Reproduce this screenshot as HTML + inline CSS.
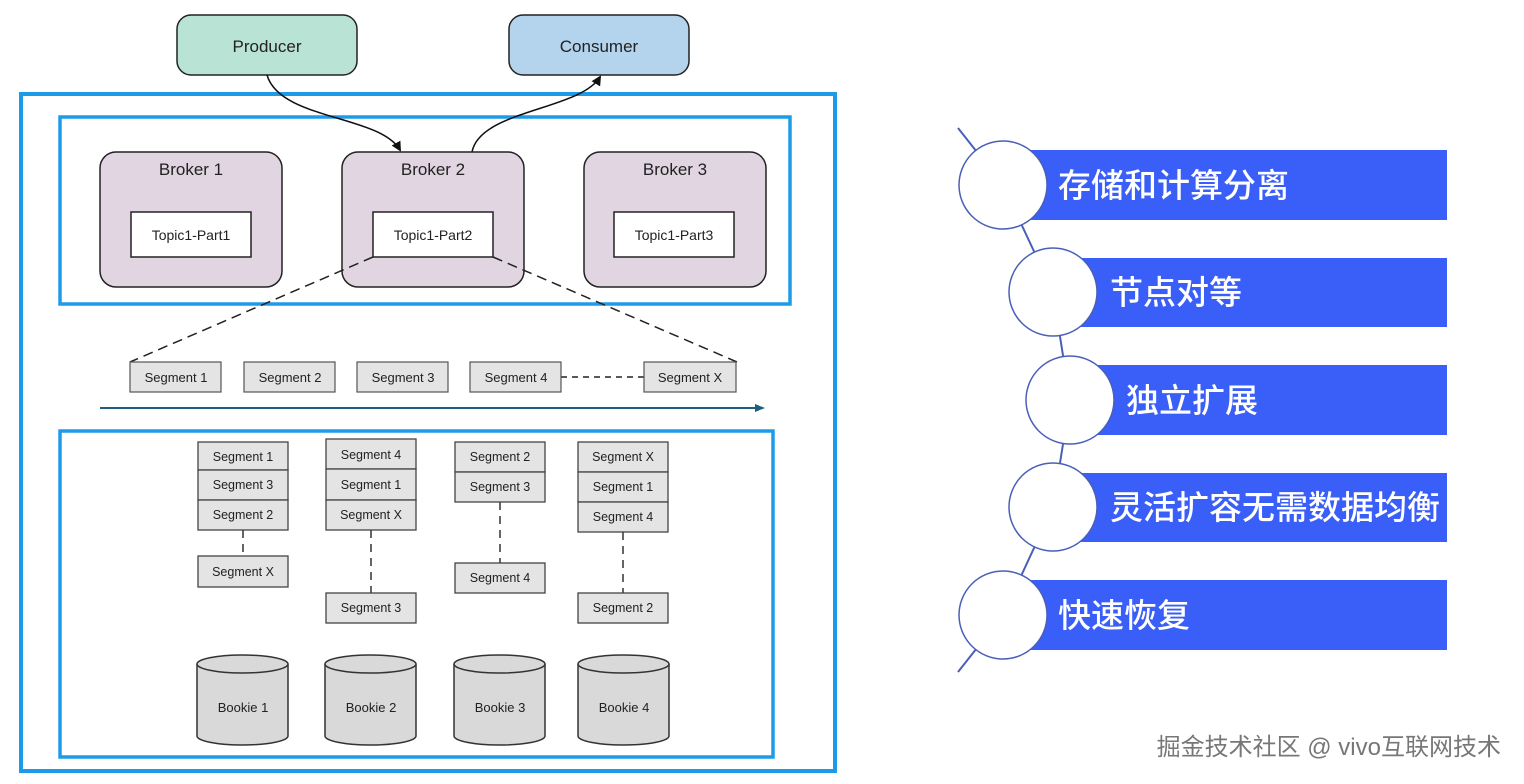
<!DOCTYPE html>
<html><head><meta charset="utf-8"><style>
html,body{margin:0;padding:0;background:#fff;}
svg{display:block;}
text{font-family:"Liberation Sans","Noto Sans CJK SC",sans-serif;}
</style></head><body>
<svg width="1524" height="784" viewBox="0 0 1524 784" xmlns="http://www.w3.org/2000/svg">
<defs>
<marker id="ah" markerWidth="10" markerHeight="10" refX="8" refY="5" orient="auto" markerUnits="userSpaceOnUse"><path d="M0,0 L10,5 L0,10 z" fill="#111"/></marker>
<marker id="ah2" markerWidth="10" markerHeight="10" refX="8" refY="5" orient="auto" markerUnits="userSpaceOnUse"><path d="M0,1 L10,5 L0,9 z" fill="#1f5f80"/></marker>
</defs>
<rect x="177" y="15" width="180" height="60" rx="14" fill="#b9e3d5" stroke="#222" stroke-width="1.5"/>
<text x="267" y="52" font-size="17" text-anchor="middle" fill="#222">Producer</text>
<rect x="509" y="15" width="180" height="60" rx="14" fill="#b3d4ec" stroke="#222" stroke-width="1.5"/>
<text x="599" y="52" font-size="17" text-anchor="middle" fill="#222">Consumer</text>
<rect x="21" y="94" width="814" height="677" fill="none" stroke="#1e9be8" stroke-width="4"/>
<rect x="60" y="117" width="730" height="187" fill="none" stroke="#1e9be8" stroke-width="3.5"/>
<rect x="60" y="431" width="713" height="326" fill="none" stroke="#1e9be8" stroke-width="3.5"/>
<path d="M267,75 C280,120 380,115 400,150" fill="none" stroke="#111" stroke-width="1.5" marker-end="url(#ah)"/>
<path d="M472,152 C480,110 580,110 600,77" fill="none" stroke="#111" stroke-width="1.5" marker-end="url(#ah)"/>
<g stroke="#222" stroke-width="1.5">
<rect x="100" y="152" width="182" height="135" rx="16" fill="#e0d5e0"/>
<rect x="342" y="152" width="182" height="135" rx="16" fill="#e0d5e0"/>
<rect x="584" y="152" width="182" height="135" rx="16" fill="#e0d5e0"/>
<rect x="131" y="212" width="120" height="45" fill="#fff"/>
<rect x="373" y="212" width="120" height="45" fill="#fff"/>
<rect x="614" y="212" width="120" height="45" fill="#fff"/>
</g>
<g font-size="17" text-anchor="middle" fill="#222">
<text x="191" y="175">Broker 1</text><text x="433" y="175">Broker 2</text><text x="675" y="175">Broker 3</text>
</g>
<g font-size="14" text-anchor="middle" fill="#222">
<text x="191" y="240">Topic1-Part1</text><text x="433" y="240">Topic1-Part2</text><text x="674" y="240">Topic1-Part3</text>
</g>
<g stroke="#222" stroke-width="1.5" stroke-dasharray="10,6" fill="none">
<line x1="373" y1="257" x2="130" y2="362"/>
<line x1="493" y1="257" x2="737" y2="362"/>
<line x1="561" y1="377" x2="644" y2="377" stroke-dasharray="6,5"/>
</g>
<g stroke="#555" stroke-width="1.2" fill="#e4e4e4">
<rect x="130" y="362" width="91" height="30"/><rect x="244" y="362" width="91" height="30"/>
<rect x="357" y="362" width="91" height="30"/><rect x="470" y="362" width="91" height="30"/>
<rect x="644" y="362" width="92" height="30"/>
</g>
<g font-size="13" text-anchor="middle" fill="#222">
<text x="176" y="382">Segment 1</text><text x="290" y="382">Segment 2</text><text x="403" y="382">Segment 3</text><text x="516" y="382">Segment 4</text><text x="690" y="382">Segment X</text>
</g>
<line x1="100" y1="408" x2="763" y2="408" stroke="#1f5f80" stroke-width="2" marker-end="url(#ah2)"/>
<g stroke="#333" stroke-width="1.5" stroke-dasharray="8,6">
<line x1="243" y1="530" x2="243" y2="556"/>
<line x1="371" y1="530" x2="371" y2="593"/>
<line x1="500" y1="502" x2="500" y2="563"/>
<line x1="623" y1="532" x2="623" y2="593"/>
</g>
<g stroke="#444" stroke-width="1.3" fill="#e4e4e4">
<rect x="198" y="442" width="90" height="28"/><rect x="198" y="470" width="90" height="30"/><rect x="198" y="500" width="90" height="30"/><rect x="198" y="556" width="90" height="31"/>
<rect x="326" y="439" width="90" height="30"/><rect x="326" y="469" width="90" height="31"/><rect x="326" y="500" width="90" height="30"/><rect x="326" y="593" width="90" height="30"/>
<rect x="455" y="442" width="90" height="30"/><rect x="455" y="472" width="90" height="30"/><rect x="455" y="563" width="90" height="30"/>
<rect x="578" y="442" width="90" height="30"/><rect x="578" y="472" width="90" height="30"/><rect x="578" y="502" width="90" height="30"/><rect x="578" y="593" width="90" height="30"/>
</g>
<g font-size="12.5" text-anchor="middle" fill="#222">
<text x="243" y="461">Segment 1</text><text x="243" y="489">Segment 3</text><text x="243" y="519">Segment 2</text><text x="243" y="576">Segment X</text>
<text x="371" y="459">Segment 4</text><text x="371" y="489">Segment 1</text><text x="371" y="519">Segment X</text><text x="371" y="612">Segment 3</text>
<text x="500" y="461">Segment 2</text><text x="500" y="491">Segment 3</text><text x="500" y="582">Segment 4</text>
<text x="623" y="461">Segment X</text><text x="623" y="491">Segment 1</text><text x="623" y="521">Segment 4</text><text x="623" y="612">Segment 2</text>
</g>
<g stroke="#333" stroke-width="1.5" fill="#d9d9d9">
<path d="M197,664 L197,736 A45.5,9 0 0 0 288,736 L288,664"/><ellipse cx="242.5" cy="664" rx="45.5" ry="9"/>
<path d="M325,664 L325,736 A45.5,9 0 0 0 416,736 L416,664"/><ellipse cx="370.5" cy="664" rx="45.5" ry="9"/>
<path d="M454,664 L454,736 A45.5,9 0 0 0 545,736 L545,664"/><ellipse cx="499.5" cy="664" rx="45.5" ry="9"/>
<path d="M578,664 L578,736 A45.5,9 0 0 0 669,736 L669,664"/><ellipse cx="623.5" cy="664" rx="45.5" ry="9"/>
</g>
<g font-size="13" text-anchor="middle" fill="#222">
<text x="243" y="712">Bookie 1</text><text x="371" y="712">Bookie 2</text><text x="500" y="712">Bookie 3</text><text x="624" y="712">Bookie 4</text>
</g>
<path d="M958,128 L1003,185 L1053,292 L1070,400 L1053,507 L1003,615 L958,672" fill="none" stroke="#4a5fb8" stroke-width="2"/>
<g fill="#3a5ef8">
<rect x="1030" y="150" width="417" height="70"/>
<rect x="1080" y="258" width="367" height="69"/>
<rect x="1097" y="365" width="350" height="70"/>
<rect x="1080" y="473" width="367" height="69"/>
<rect x="1030" y="580" width="417" height="70"/>
</g>
<g fill="#fff" stroke="#4a5fb8" stroke-width="1.5">
<circle cx="1003" cy="185" r="44"/><circle cx="1053" cy="292" r="44"/><circle cx="1070" cy="400" r="44"/><circle cx="1053" cy="507" r="44"/><circle cx="1003" cy="615" r="44"/>
</g>
<g font-size="33" fill="#fff" font-weight="500">
<text x="1058" y="197">存储和计算分离</text>
<text x="1110" y="304">节点对等</text>
<text x="1126" y="412">独立扩展</text>
<text x="1110" y="519">灵活扩容无需数据均衡</text>
<text x="1058" y="627">快速恢复</text>
</g>
<text x="1501" y="755" font-size="24" text-anchor="end" fill="#777">掘金技术社区 @ vivo互联网技术</text>
</svg>
</body></html>
